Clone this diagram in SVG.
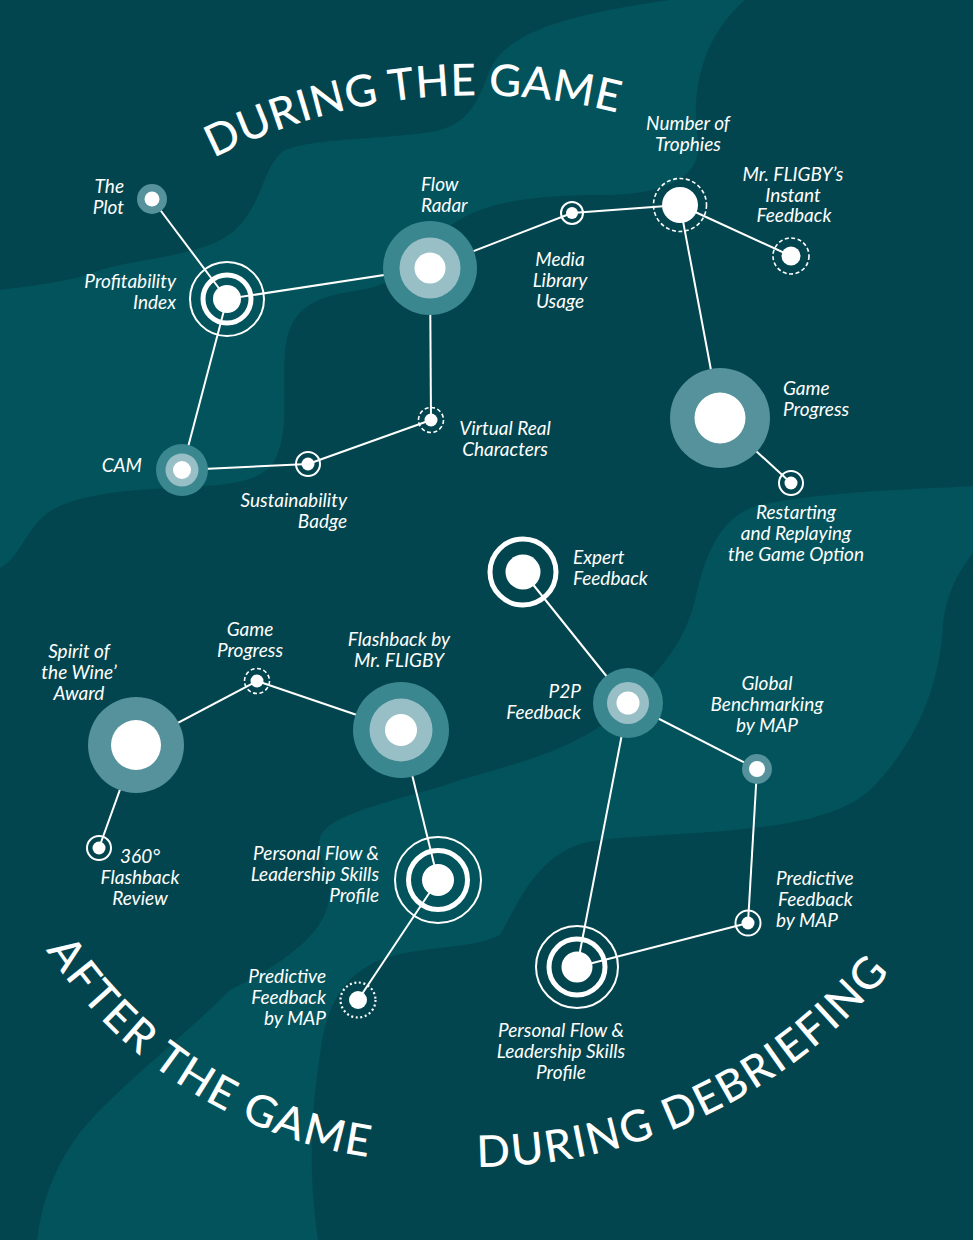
<svg xmlns="http://www.w3.org/2000/svg" xmlns:xlink="http://www.w3.org/1999/xlink" width="973" height="1240" viewBox="0 0 973 1240">
<style>
.core{fill:#fff}
.ring{fill:none;stroke:#fff;stroke-width:2}
.thick{fill:none;stroke:#fff;stroke-width:5}
.dash{fill:none;stroke:#fff;stroke-width:1.6;stroke-dasharray:4 2.5}
.dot{fill:none;stroke:#fff;stroke-width:2.2;stroke-dasharray:2 2.6}
.halo{fill:#55929b}
.rout{fill:#3a8790}
.rin{fill:#98bfc5}
.link{stroke:#fff;stroke-width:2;fill:none}
.lbl{font-family:Lato,"Open Sans","Liberation Sans",sans-serif;font-style:italic;font-size:19px;fill:#fff}
.e{text-anchor:end}
.m{text-anchor:middle}
.title{font-family:Lato,"Open Sans","Liberation Sans",sans-serif;font-size:44px;font-weight:500;fill:#fff;letter-spacing:2px}
.t1{letter-spacing:0.6px}
</style>
<defs>
<path id="arc1" d="M190,171 A579,579 0 0,1 650,122"/>
<path id="arc2" d="M46,950 A467,467 0 0,0 519,1155"/>
<path id="arc3" d="M477,1167 A534,534 0 0,0 939.5,900"/>
</defs>
<g id="background">
<rect width="973" height="1240" fill="#03454e"/>
<path fill="#02535c" d="M670,0 L745,0 C705,35 690,85 698,140 C703,180 660,195 600,195 C520,195 470,205 440,235 C410,265 395,285 360,290 C310,297 290,310 285,350 C282,390 290,430 275,460 C262,482 230,485 190,487 C120,490 70,495 45,515 C25,532 18,560 0,568 L0,290 C40,285 75,280 95,272 C130,258 205,258 235,230 C262,205 262,170 282,152 C305,138 380,140 430,132 C470,126 478,100 490,70 C505,35 560,15 670,0 Z"/>
<path fill="#02535c" d="M973,486 L973,553 C955,575 945,600 943,625 C940,680 920,740 870,790 C820,835 700,830 600,840 C540,846 520,900 500,935 C470,950 420,945 380,960 C345,975 330,1000 322,1040 C315,1090 305,1150 318,1240 L37,1240 C45,1180 70,1140 100,1110 C140,1070 190,1030 230,990 C290,960 330,930 330,890 C330,860 305,845 330,825 C360,805 420,795 460,780 C530,760 590,745 630,700 C665,665 685,640 695,600 C705,555 720,515 760,505 C820,492 900,490 973,486 Z"/>
</g>
<g id="titles">
<text class="title t1"><textPath xlink:href="#arc1" href="#arc1" startOffset="49.3%" text-anchor="middle">DURING THE GAME</textPath></text>
<text class="title"><textPath xlink:href="#arc2" href="#arc2" startOffset="0">AFTER THE GAME</textPath></text>
<text class="title"><textPath xlink:href="#arc3" href="#arc3" startOffset="0">DURING DEBRIEFING</textPath></text>
</g>
<g id="connectors">
<line class="link" x1="152" y1="199" x2="227" y2="299"/>
<line class="link" x1="227" y1="299" x2="430" y2="268"/>
<line class="link" x1="430" y1="268" x2="572" y2="213"/>
<line class="link" x1="572" y1="213" x2="680" y2="205"/>
<line class="link" x1="680" y1="205" x2="791" y2="256"/>
<line class="link" x1="680" y1="205" x2="720" y2="418"/>
<line class="link" x1="720" y1="418" x2="791" y2="483"/>
<line class="link" x1="430" y1="268" x2="431" y2="420"/>
<line class="link" x1="431" y1="420" x2="308" y2="464"/>
<line class="link" x1="308" y1="464" x2="182" y2="470"/>
<line class="link" x1="182" y1="470" x2="227" y2="299"/>
<line class="link" x1="523" y1="572" x2="628" y2="703"/>
<line class="link" x1="628" y1="703" x2="757" y2="769"/>
<line class="link" x1="757" y1="769" x2="748" y2="923"/>
<line class="link" x1="748" y1="923" x2="577" y2="967"/>
<line class="link" x1="628" y1="703" x2="577" y2="967"/>
<line class="link" x1="136" y1="745" x2="257" y2="681"/>
<line class="link" x1="257" y1="681" x2="401" y2="730"/>
<line class="link" x1="136" y1="745" x2="99" y2="848"/>
<line class="link" x1="401" y1="730" x2="438" y2="880"/>
<line class="link" x1="438" y1="880" x2="358" y2="1000"/>
</g>
<g id="n-plot"><circle class="halo" cx="152" cy="199" r="15"/><circle class="core" cx="152" cy="199" r="7.5"/>
<text class="lbl e" x="124" y="193">The</text><text class="lbl e" x="124" y="214">Plot</text></g>
<g id="n-profitability"><circle class="ring" cx="227" cy="299" r="37"/><circle class="thick" cx="227" cy="299" r="24"/><circle class="core" cx="227" cy="299" r="14"/>
<text class="lbl e" x="176" y="288">Profitability</text><text class="lbl e" x="176" y="309">Index</text></g>
<g id="n-flowradar"><circle class="rout" cx="430" cy="268" r="47"/><circle class="rin" cx="430" cy="268" r="30.5"/><circle class="core" cx="430" cy="268" r="15.5"/>
<text class="lbl" x="421" y="191">Flow</text><text class="lbl" x="421" y="212">Radar</text></g>
<g id="n-media"><circle class="ring" cx="572" cy="213" r="11"/><circle class="core" cx="572" cy="213" r="6"/>
<text class="lbl m" x="560" y="266">Media</text><text class="lbl m" x="560" y="287">Library</text><text class="lbl m" x="560" y="308">Usage</text></g>
<g id="n-trophies"><circle class="dash" cx="680" cy="205" r="26.5"/><circle class="core" cx="680" cy="205" r="18"/>
<text class="lbl m" x="688" y="130">Number of</text><text class="lbl m" x="688" y="151">Trophies</text></g>
<g id="n-instant"><circle class="dash" cx="791" cy="256" r="18"/><circle class="core" cx="791" cy="256" r="9.5"/>
<text class="lbl m" x="793" y="181">Mr. FLIGBY’s</text><text class="lbl m" x="793" y="202">Instant</text><text class="lbl m" x="794" y="222">Feedback</text></g>
<g id="n-gameprogress"><circle class="halo" cx="720" cy="418" r="50"/><circle class="core" cx="720" cy="418" r="25.5"/>
<text class="lbl" x="783" y="395">Game</text><text class="lbl" x="783" y="416">Progress</text></g>
<g id="n-restart"><circle class="ring" cx="791" cy="483" r="12"/><circle class="core" cx="791" cy="483" r="6.5"/>
<text class="lbl m" x="796" y="519">Restarting</text><text class="lbl m" x="796" y="540">and Replaying</text><text class="lbl m" x="796" y="561">the Game Option</text></g>
<g id="n-virtual"><circle class="dash" cx="431" cy="420" r="12.5"/><circle class="core" cx="431" cy="420" r="6.5"/>
<text class="lbl m" x="505" y="435">Virtual Real</text><text class="lbl m" x="505" y="456">Characters</text></g>
<g id="n-sustain"><circle class="ring" cx="308" cy="464" r="12"/><circle class="core" cx="308" cy="464" r="6.5"/>
<text class="lbl e" x="347" y="507">Sustainability</text><text class="lbl e" x="347" y="528">Badge</text></g>
<g id="n-cam"><circle class="rout" cx="182" cy="470" r="26"/><circle class="rin" cx="182" cy="470" r="16.5"/><circle class="core" cx="182" cy="470" r="9"/>
<text class="lbl e" x="142" y="472">CAM</text></g>
<g id="n-expert"><circle class="thick" cx="523" cy="572" r="33"/><circle class="core" cx="523" cy="572" r="17.5"/>
<text class="lbl" x="573" y="564">Expert</text><text class="lbl" x="573" y="585">Feedback</text></g>
<g id="n-p2p"><circle class="rout" cx="628" cy="703" r="35"/><circle class="rin" cx="628" cy="703" r="21"/><circle class="core" cx="628" cy="703" r="11.5"/>
<text class="lbl e" x="581" y="698">P2P</text><text class="lbl e" x="581" y="719">Feedback</text></g>
<g id="n-global"><circle class="halo" cx="757" cy="769" r="15"/><circle class="core" cx="757" cy="769" r="8"/>
<text class="lbl m" x="767" y="690">Global</text><text class="lbl m" x="767" y="711">Benchmarking</text><text class="lbl m" x="767" y="732">by MAP</text></g>
<g id="n-predictive-d"><circle class="ring" cx="748" cy="923" r="12.5"/><circle class="core" cx="748" cy="923" r="6.5"/>
<text class="lbl" x="776" y="885">Predictive</text><text class="lbl" x="778" y="906">Feedback</text><text class="lbl" x="776" y="927">by MAP</text></g>
<g id="n-personal-d"><circle class="ring" cx="577" cy="967" r="41"/><circle class="thick" cx="577" cy="967" r="28"/><circle class="core" cx="577" cy="967" r="15.5"/>
<text class="lbl m" x="561" y="1037">Personal Flow &amp;</text><text class="lbl m" x="561" y="1058">Leadership Skills</text><text class="lbl m" x="561" y="1079">Profile</text></g>
<g id="n-spirit"><circle class="halo" cx="136" cy="745" r="48"/><circle class="core" cx="136" cy="745" r="25"/>
<text class="lbl m" x="79" y="658">Spirit of</text><text class="lbl m" x="79" y="679">the Wine’</text><text class="lbl m" x="79" y="700">Award</text></g>
<g id="n-gameprogress-a"><circle class="dash" cx="257" cy="681" r="12.5"/><circle class="core" cx="257" cy="681" r="6.5"/>
<text class="lbl m" x="250" y="636">Game</text><text class="lbl m" x="250" y="657">Progress</text></g>
<g id="n-flashback"><circle class="rout" cx="401" cy="730" r="48"/><circle class="rin" cx="401" cy="730" r="31.5"/><circle class="core" cx="401" cy="730" r="16"/>
<text class="lbl m" x="399" y="646">Flashback by</text><text class="lbl m" x="399" y="667">Mr. FLIGBY</text></g>
<g id="n-360"><circle class="ring" cx="99" cy="848" r="12"/><circle class="core" cx="99" cy="848" r="6.5"/>
<text class="lbl m" x="140" y="863">360°</text><text class="lbl m" x="140" y="884">Flashback</text><text class="lbl m" x="140" y="905">Review</text></g>
<g id="n-personal-a"><circle class="ring" cx="438" cy="880" r="43"/><circle class="thick" cx="438" cy="880" r="29.5"/><circle class="core" cx="438" cy="880" r="16"/>
<text class="lbl e" x="379" y="860">Personal Flow &amp;</text><text class="lbl e" x="379" y="881">Leadership Skills</text><text class="lbl e" x="379" y="902">Profile</text></g>
<g id="n-predictive-a"><circle class="dot" cx="358" cy="1000" r="17.5"/><circle class="core" cx="358" cy="1000" r="9"/>
<text class="lbl e" x="326" y="983">Predictive</text><text class="lbl e" x="326" y="1004">Feedback</text><text class="lbl e" x="326" y="1025">by MAP</text></g>
</svg>
